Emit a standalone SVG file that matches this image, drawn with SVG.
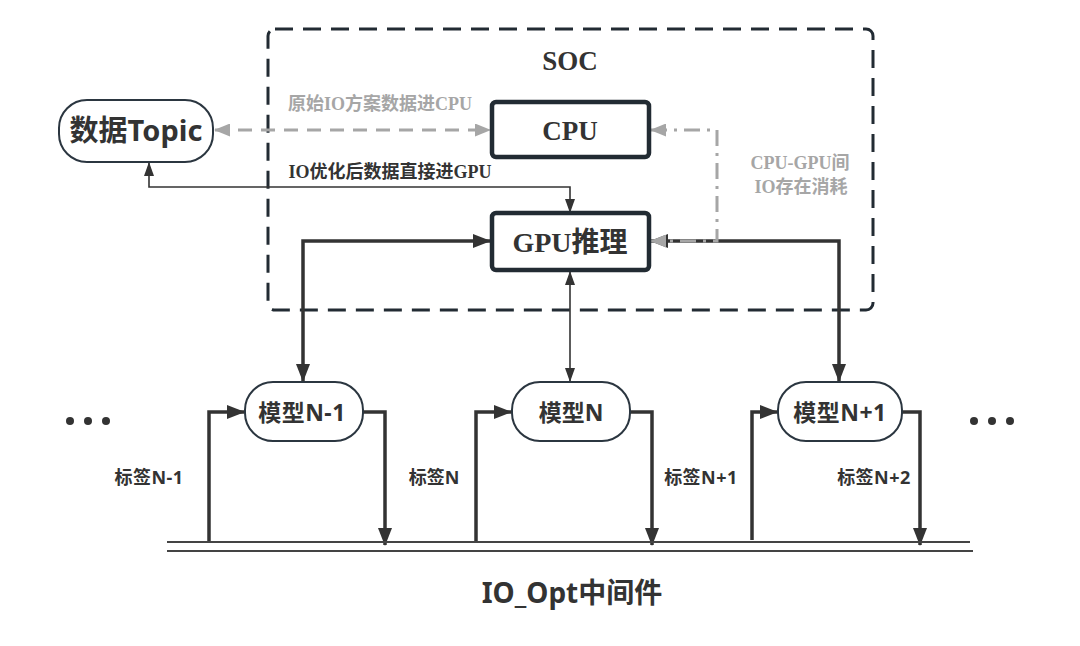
<svg xmlns="http://www.w3.org/2000/svg" width="1080" height="646" viewBox="0 0 1080 646">
<defs>
<style>
.sans{font-family:"Noto Sans","Noto Sans CJK SC",sans-serif;font-weight:bold;fill:#333}
.serif{font-family:"Liberation Serif","Noto Sans CJK SC",serif;font-weight:bold}
.box{fill:#fff;stroke:#222b33;stroke-width:4.5}
.pill{fill:#fff;stroke:#2b3640;stroke-width:2}
.thick{fill:none;stroke:#333;stroke-width:3.5}
.thin{fill:none;stroke:#333;stroke-width:1.6}
.gray{fill:none;stroke:#a6a6a6;stroke-width:3}
</style>
<marker id="ak" viewBox="0 0 18 14" refX="17" refY="7" markerWidth="18" markerHeight="14" markerUnits="userSpaceOnUse" orient="auto-start-reverse"><path d="M0,0 L18,7 L0,14 z" fill="#333"/></marker>
<marker id="at" viewBox="0 0 14 10" refX="13" refY="5" markerWidth="14" markerHeight="10" markerUnits="userSpaceOnUse" orient="auto-start-reverse"><path d="M0,0 L14,5 L0,10 z" fill="#333"/></marker>
<marker id="ag" viewBox="0 0 16 13" refX="15" refY="6.5" markerWidth="16" markerHeight="13" markerUnits="userSpaceOnUse" orient="auto-start-reverse"><path d="M0,0 L16,6.5 L0,13 z" fill="#a6a6a6"/></marker>
</defs>
<rect width="1080" height="646" fill="#fff"/>

<g id="soc">
<rect x="268" y="29" width="605" height="281" rx="7" fill="none" stroke="#222b33" stroke-width="3" stroke-dasharray="18 10"/>
<text x="570" y="70" text-anchor="middle" class="serif" font-size="27" fill="#333">SOC</text>
</g>

<g id="connectors">
<line x1="215" y1="130" x2="490" y2="130" class="gray" stroke-dasharray="14 9" marker-start="url(#ag)" marker-end="url(#ag)"/>
<path d="M149,163 L149,187 L570,187 L570,212" class="thin" marker-start="url(#at)" marker-end="url(#at)"/>
<path d="M490,241 L303,241 L303,381" class="thick" marker-start="url(#ak)" marker-end="url(#ak)"/>
<path d="M651,241 L839,241 L839,381" class="thick" marker-start="url(#ak)" marker-end="url(#ak)"/>
<path d="M651,130 L717,130 L717,241 L651,241" class="gray" stroke-dasharray="16 7 3 7" marker-start="url(#ag)" marker-end="url(#ag)"/>
<path d="M570,272 L570,381" class="thin" marker-start="url(#at)" marker-end="url(#at)"/>
<path d="M209,542 L209,412 L244,412" class="thick" marker-end="url(#ak)"/>
<path d="M363,412 L385,412 L385,545" class="thick" marker-end="url(#ak)"/>
<path d="M476,542 L476,412 L511,412" class="thick" marker-end="url(#ak)"/>
<path d="M630,412 L652,412 L652,545" class="thick" marker-end="url(#ak)"/>
<path d="M752,540 L752,412 L777,412" class="thick" marker-end="url(#ak)"/>
<path d="M902,412 L920,412 L920,545" class="thick" marker-end="url(#ak)"/>
<line x1="167" y1="542" x2="970" y2="542" stroke="#444" stroke-width="2"/>
<line x1="167" y1="551" x2="973" y2="551" stroke="#444" stroke-width="2"/>
</g>

<g id="labels">
<text x="380" y="110" text-anchor="middle" class="serif" font-size="18" fill="#a6a6a6">原始IO方案数据进CPU</text>
<text x="390" y="178" text-anchor="middle" class="serif" font-size="18" fill="#333">IO优化后数据直接进GPU</text>
<text x="800" y="169" text-anchor="middle" class="serif" font-size="18" fill="#a6a6a6">CPU-GPU间</text>
<text x="801" y="193" text-anchor="middle" class="serif" font-size="18" fill="#a6a6a6">IO存在消耗</text>
<text x="149" y="484" text-anchor="middle" class="sans" font-size="18" letter-spacing="0.5">标签N-1</text>
<text x="434" y="484" text-anchor="middle" class="sans" font-size="18">标签N</text>
<text x="701" y="484" text-anchor="middle" class="sans" font-size="18" letter-spacing="0.5">标签N+1</text>
<text x="874" y="484" text-anchor="middle" class="sans" font-size="18" letter-spacing="0.5">标签N+2</text>
</g>

<g id="topic">
<rect x="59" y="100" width="154" height="62" rx="28" class="pill"/>
<text x="136" y="141" text-anchor="middle" class="sans" font-size="29">数据Topic</text>
</g>

<g id="cpu">
<rect x="492" y="102" width="157" height="55" rx="4" class="box"/>
<text x="570" y="140" text-anchor="middle" class="serif" font-size="27" fill="#333">CPU</text>
</g>

<g id="gpu">
<rect x="492" y="213" width="157" height="57" rx="4" class="box"/>
<text x="570" y="252" text-anchor="middle" class="serif" font-size="28" fill="#333">GPU推理</text>
</g>

<g id="model-n-1">
<rect x="245" y="382" width="118" height="59" rx="28" class="pill"/>
<text x="302" y="421" text-anchor="middle" class="sans" font-size="23" letter-spacing="0.5">模型N-1</text>
</g>

<g id="model-n">
<rect x="512" y="382" width="118" height="59" rx="28" class="pill"/>
<text x="571" y="421" text-anchor="middle" class="sans" font-size="23">模型N</text>
</g>

<g id="model-n1">
<rect x="778" y="382" width="124" height="59" rx="28" class="pill"/>
<text x="840" y="421" text-anchor="middle" class="sans" font-size="23" letter-spacing="0.5">模型N+1</text>
</g>

<g id="dots-left" fill="#333">
<circle cx="70" cy="421" r="4"/><circle cx="88" cy="421" r="4"/><circle cx="106" cy="421" r="4"/>
</g>
<g id="dots-right" fill="#333">
<circle cx="974" cy="421" r="4"/><circle cx="992" cy="421" r="4"/><circle cx="1010" cy="421" r="4"/>
</g>

<g id="title">
<text x="572" y="603" text-anchor="middle" class="sans" font-size="28">IO_Opt中间件</text>
</g>
</svg>
